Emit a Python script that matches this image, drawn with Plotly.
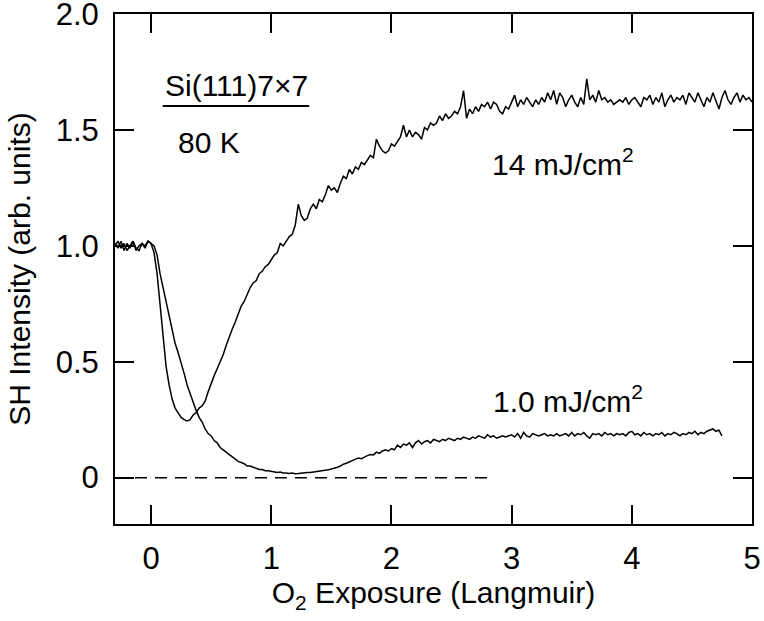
import plotly.graph_objects as go

# SH intensity vs O2 exposure, sampled every 0.025 L starting at -0.3 L
x_start = -0.3
x_step = 0.025

sh_14mj = [
    1.01, 0.99, 1.02, 0.98, 1.01, 0.99, 1.02, 0.98, 1.00, 1.01, 0.99, 1.02, 1.01, 0.97, 0.88, 0.75, 0.60, 0.48, 0.40, 0.34,
    0.30, 0.28, 0.26, 0.25, 0.245, 0.25, 0.27, 0.28, 0.30, 0.31, 0.33, 0.37, 0.41, 0.44, 0.47, 0.50, 0.53, 0.57, 0.61, 0.64,
    0.67, 0.71, 0.74, 0.76, 0.79, 0.82, 0.84, 0.85, 0.88, 0.89, 0.91, 0.92, 0.94, 0.96, 0.97, 1.01, 1.00, 1.02, 1.04, 1.05,
    1.09, 1.18, 1.13, 1.11, 1.12, 1.16, 1.18, 1.16, 1.20, 1.19, 1.22, 1.26, 1.24, 1.25, 1.23, 1.27, 1.30, 1.29, 1.33, 1.31,
    1.34, 1.33, 1.36, 1.35, 1.37, 1.39, 1.38, 1.46, 1.43, 1.41, 1.40, 1.41, 1.44, 1.43, 1.45, 1.47, 1.52, 1.47, 1.50, 1.47,
    1.49, 1.48, 1.46, 1.51, 1.50, 1.53, 1.52, 1.53, 1.56, 1.54, 1.57, 1.55, 1.56, 1.58, 1.57, 1.60, 1.67, 1.55, 1.59, 1.57,
    1.60, 1.58, 1.61, 1.60, 1.62, 1.59, 1.62, 1.61, 1.58, 1.57, 1.60, 1.59, 1.62, 1.65, 1.60, 1.63, 1.61, 1.64, 1.62, 1.60,
    1.63, 1.61, 1.64, 1.62, 1.66, 1.63, 1.67, 1.61, 1.66, 1.64, 1.60, 1.63, 1.65, 1.62, 1.60, 1.64, 1.61, 1.72, 1.63, 1.65,
    1.62, 1.67, 1.63, 1.64, 1.62, 1.63, 1.61, 1.62, 1.63, 1.62, 1.64, 1.61, 1.63, 1.64, 1.62, 1.60, 1.64, 1.63, 1.65, 1.61,
    1.64, 1.62, 1.66, 1.60, 1.63, 1.65, 1.62, 1.64, 1.63, 1.65, 1.61, 1.66, 1.64, 1.62, 1.66, 1.63, 1.60, 1.64, 1.62, 1.66,
    1.62, 1.59, 1.64, 1.67, 1.63, 1.61, 1.64, 1.66, 1.62, 1.65, 1.63, 1.64, 1.62,
]

sh_1mj = [
    1.00, 1.02, 0.99, 1.01, 0.98, 1.00, 1.02, 0.99, 0.98, 1.01, 1.00, 1.02, 1.01, 1.00, 0.96, 0.88, 0.82, 0.76, 0.70, 0.64,
    0.58, 0.54, 0.50, 0.45, 0.40, 0.36, 0.32, 0.29, 0.26, 0.24, 0.21, 0.19, 0.18, 0.16, 0.15, 0.13, 0.12, 0.11, 0.10, 0.09,
    0.08, 0.07, 0.065, 0.06, 0.05, 0.05, 0.045, 0.04, 0.035, 0.035, 0.03, 0.03, 0.028, 0.025, 0.022, 0.024, 0.02, 0.02, 0.018, 0.02,
    0.017, 0.018, 0.02, 0.019, 0.022, 0.022, 0.024, 0.023, 0.027, 0.028, 0.03, 0.034, 0.037, 0.04, 0.045, 0.05, 0.058, 0.062, 0.068, 0.072,
    0.08, 0.085, 0.082, 0.09, 0.095, 0.10, 0.098, 0.11, 0.105, 0.115, 0.12, 0.115, 0.125, 0.12, 0.14, 0.13, 0.145, 0.14, 0.15, 0.13,
    0.15, 0.16, 0.145, 0.155, 0.16, 0.15, 0.165, 0.16, 0.155, 0.165, 0.16, 0.17, 0.165, 0.16, 0.17, 0.165, 0.175, 0.17, 0.165, 0.175,
    0.17, 0.18, 0.175, 0.17, 0.185, 0.175, 0.18, 0.17, 0.175, 0.18, 0.175, 0.18, 0.185, 0.175, 0.19, 0.17, 0.195, 0.18, 0.175, 0.19,
    0.185, 0.18, 0.185, 0.19, 0.18, 0.185, 0.18, 0.19, 0.18, 0.185, 0.19, 0.18, 0.195, 0.18, 0.19, 0.185, 0.195, 0.18, 0.17, 0.19,
    0.185, 0.19, 0.18, 0.195, 0.185, 0.19, 0.18, 0.19, 0.185, 0.19, 0.18, 0.195, 0.2, 0.185, 0.19, 0.18, 0.195, 0.185, 0.19, 0.18,
    0.19, 0.185, 0.195, 0.18, 0.19, 0.185, 0.195, 0.19, 0.18, 0.19, 0.185, 0.195, 0.19, 0.2, 0.185, 0.195, 0.19, 0.2, 0.205, 0.21,
    0.2, 0.205, 0.18,
]

x_14mj = [round(x_start + x_step * i, 3) for i in range(len(sh_14mj))]
x_1mj = [round(x_start + x_step * i, 3) for i in range(len(sh_1mj))]

# zero reference line
zero_x = [-0.3, 2.8]
zero_y = [0, 0]

x_ticks = [0, 1, 2, 3, 4, 5]
y_ticks = [0, 0.5, 1.0, 1.5, 2.0]
y_tick_text = ["0", "0.5", "1.0", "1.5", "2.0"]

font_name = "Liberation Sans, Arial, sans-serif"

fig = go.Figure()

fig.add_trace(go.Scatter(x=zero_x, y=zero_y, mode="lines",
                         line=dict(color="black", width=1.5, dash="12px,8px"),
                         showlegend=False))
fig.add_trace(go.Scatter(x=x_1mj, y=sh_1mj, mode="lines",
                         line=dict(color="black", width=1.5), name="1.0 mJ/cm2",
                         showlegend=False))
fig.add_trace(go.Scatter(x=x_14mj, y=sh_14mj, mode="lines",
                         line=dict(color="black", width=1.5), name="14 mJ/cm2",
                         showlegend=False))

# text labels
label_font = dict(family=font_name, size=30, color="black")
fig.add_annotation(x=0.10, y=1.69, xref="x", yref="y", text="Si(111)7×7", font=label_font,
                   showarrow=False, xanchor="left", yanchor="middle")
fig.add_annotation(x=0.21, y=1.444, xref="x", yref="y", text="80 K", font=label_font,
                   showarrow=False, xanchor="left", yanchor="middle")
fig.add_annotation(x=2.82, y=1.36, xref="x", yref="y", text="14 mJ/cm<sup>2</sup>", font=label_font,
                   showarrow=False, xanchor="left", yanchor="middle")
fig.add_annotation(x=2.83, y=0.34, xref="x", yref="y", text="1.0 mJ/cm<sup>2</sup>", font=label_font,
                   showarrow=False, xanchor="left", yanchor="middle")

# underline below the sample name
fig.add_shape(type="line", xref="x", yref="y", x0=0.097, x1=1.316, y0=1.603, y1=1.603,
              line=dict(color="black", width=2))

fig.update_layout(
    width=764,
    height=621,
    margin=dict(l=115, r=12, t=14, b=97, autoexpand=False),
    plot_bgcolor="white",
    paper_bgcolor="white",
    font=dict(family=font_name, size=30, color="black"),
)

fig.update_xaxes(
    range=[-0.3, 5],
    tickvals=x_ticks,
    ticks="inside",
    ticklen=19,
    tickwidth=1.5,
    tickcolor="black",
    tickfont=dict(family=font_name, size=31, color="black"),
    ticklabelstandoff=6,
    ticklabeloverflow="allow",
    showline=True,
    linecolor="black",
    linewidth=2,
    mirror="ticks",
    showgrid=False,
    zeroline=False,
    automargin=False,
    title=dict(text="O<sub>2</sub> Exposure (Langmuir)",
               font=dict(family=font_name, size=30, color="black"), standoff=4),
)

fig.update_yaxes(
    range=[-0.2, 2.0001],
    tickvals=y_ticks,
    ticktext=y_tick_text,
    ticks="inside",
    ticklen=19,
    tickwidth=1.5,
    tickcolor="black",
    tickfont=dict(family=font_name, size=31, color="black"),
    ticklabelstandoff=8,
    ticklabeloverflow="allow",
    showline=True,
    linecolor="black",
    linewidth=2,
    mirror="ticks",
    showgrid=False,
    zeroline=False,
    automargin=False,
    title=dict(text="SH Intensity (arb. units)",
               font=dict(family=font_name, size=30, color="black"), standoff=16),
)

# drop the default page margin so the figure sits at the window's corner
fig.write_html("out.html", config={"displayModeBar": False},
               post_script="document.body.style.margin='0';")
